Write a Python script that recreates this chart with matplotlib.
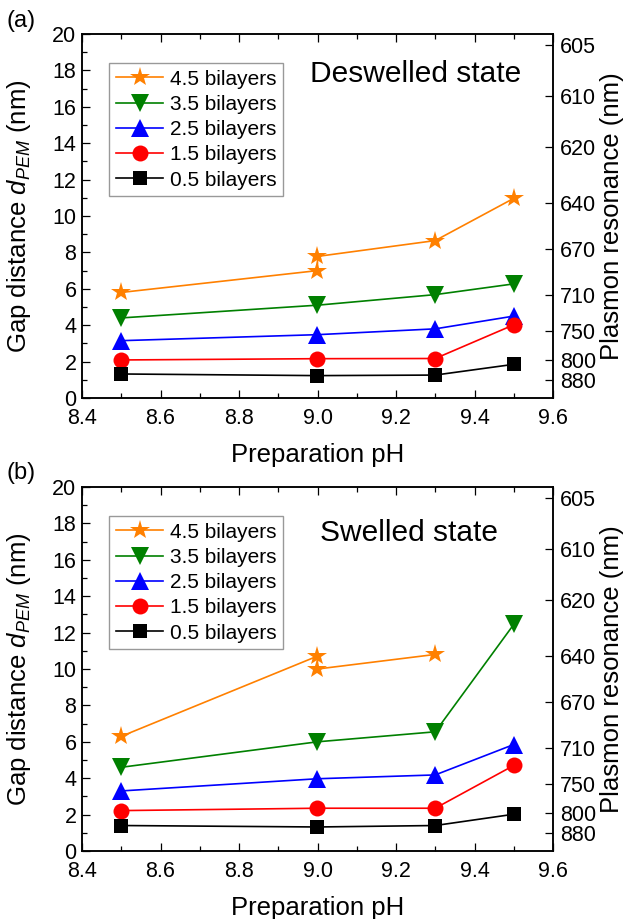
import numpy as np
import matplotlib
matplotlib.use("Agg")
import matplotlib.pyplot as plt
from matplotlib.ticker import MultipleLocator, FormatStrFormatter

plt.rcParams['font.family'] = ['Liberation Sans', 'DejaVu Sans']
plt.rcParams['mathtext.fontset'] = 'custom'
plt.rcParams['mathtext.rm'] = 'Liberation Sans'
plt.rcParams['mathtext.it'] = 'Liberation Sans:italic'

# ---- data -------------------------------------------------------------
labels = ["4.5 bilayers", "3.5 bilayers", "2.5 bilayers", "1.5 bilayers", "0.5 bilayers"]
colors = ["#FF8000", "#008000", "#0000FF", "#FF0000", "#000000"]
markers = ["*", "v", "^", "o", "s"]
msizes = [15, 12.5, 12.5, 11.5, 10]

ph = [8.5, 9.0, 9.3, 9.5]
ph_45_deswelled = [8.5, 9.0, 9.0, 9.3, 9.5]
ph_45_swelled = [8.5, 9.0, 9.0, 9.3]

deswelled_45 = [5.8, 7.0, 7.78, 8.65, 10.97]
deswelled_35 = [4.4, 5.1, 5.68, 6.27]
deswelled_25 = [3.15, 3.48, 3.8, 4.5]
deswelled_15 = [2.09, 2.16, 2.17, 4.02]
deswelled_05 = [1.32, 1.23, 1.26, 1.85]

swelled_45 = [6.3, 10.71, 10.0, 10.8]
swelled_35 = [4.6, 6.0, 6.55, 12.45]
swelled_25 = [3.3, 3.97, 4.18, 5.85]
swelled_15 = [2.22, 2.35, 2.35, 4.7]
swelled_05 = [1.4, 1.32, 1.4, 2.02]

# plasmon resonance calibration: wavelength (nm) at a given gap distance (nm)
resonance_nm = [880, 800, 750, 710, 670, 640, 620, 610, 605]
resonance_gap = [1.01, 2.07, 3.66, 5.65, 8.16, 10.73, 13.81, 16.61, 19.40]

panels = [
    ("(a)", "Deswelled state",
     [(ph_45_deswelled, deswelled_45), (ph, deswelled_35), (ph, deswelled_25),
      (ph, deswelled_15), (ph, deswelled_05)]),
    ("(b)", "Swelled state",
     [(ph_45_swelled, swelled_45), (ph, swelled_35), (ph, swelled_25),
      (ph, swelled_15), (ph, swelled_05)]),
]

W, H = 627, 919
fig = plt.figure(figsize=(W / 100, H / 100), dpi=100)

ax_left, ax_w, ax_h = 82 / W, 471 / W, 364 / H
tops = [34, 487]
state_pos = [(0.484, 0.869), (0.505, 0.852)]
letter_y = [21, 473]

for i, (letter, state, series) in enumerate(panels):
    bottom = 1 - (tops[i] + 364) / H
    ax = fig.add_axes([ax_left, bottom, ax_w, ax_h])
    for (x, y), lab, c, m, ms in zip(series, labels, colors, markers, msizes):
        ax.plot(x, y, color=c, marker=m, markersize=ms, lw=1.2,
                markeredgewidth=0, label=lab)
    ax.set_xlim(8.4, 9.6)
    ax.set_ylim(0, 20)
    ax.xaxis.set_major_locator(MultipleLocator(0.2))
    ax.xaxis.set_minor_locator(MultipleLocator(0.1))
    ax.yaxis.set_major_locator(MultipleLocator(2))
    ax.yaxis.set_minor_locator(MultipleLocator(1))
    ax.tick_params(which='both', direction='in', top=True, right=False,
                   labelsize=15.5, width=0.9)
    ax.tick_params(which='major', length=6)
    ax.tick_params(which='minor', length=3.5)
    ax.tick_params(axis='x', pad=7)
    ax.tick_params(axis='y', pad=4)
    ax.xaxis.set_major_formatter(FormatStrFormatter('%.1f'))
    for sp in ax.spines.values():
        sp.set_linewidth(1.1)
    ax.set_xlabel("Preparation pH", fontsize=18.5, labelpad=10)
    ax.set_ylabel(r"Gap distance $d_{PEM}$ (nm)", fontsize=18.5)
    ax.yaxis.set_label_coords(-0.103, 0.5)

    # right-hand scale: plasmon resonance for the gap distance
    ax2 = ax.twinx()
    ax2.set_ylim(ax.get_ylim())
    ax2.set_yticks(resonance_gap, labels=[str(v) for v in resonance_nm])
    ax2.yaxis.set_minor_locator(matplotlib.ticker.NullLocator())
    ax2.tick_params(direction='in', length=6, width=0.9, labelsize=15.5, pad=5)
    for sp in ax2.spines.values():
        sp.set_linewidth(1.1)
    ax2.set_ylabel("Plasmon resonance (nm)", fontsize=18.5)
    ax2.yaxis.set_label_coords(1.1, 0.5)

    leg = ax.legend(loc='upper left', bbox_to_anchor=(0.058, 0.9195),
                    borderaxespad=0, fontsize=15, handlelength=2.3,
                    handletextpad=0.3, labelspacing=0.3, borderpad=0.3,
                    fancybox=False, framealpha=1, edgecolor='#999999')
    leg.get_frame().set_linewidth(1.0)

    ax.text(state_pos[i][0], state_pos[i][1], state, transform=ax.transAxes,
            fontsize=21.5, va='baseline', ha='left')
    fig.text(7 / W, 1 - letter_y[i] / H, letter, fontsize=17,
             va='center', ha='left')

fig.savefig("out.png", dpi=100)
